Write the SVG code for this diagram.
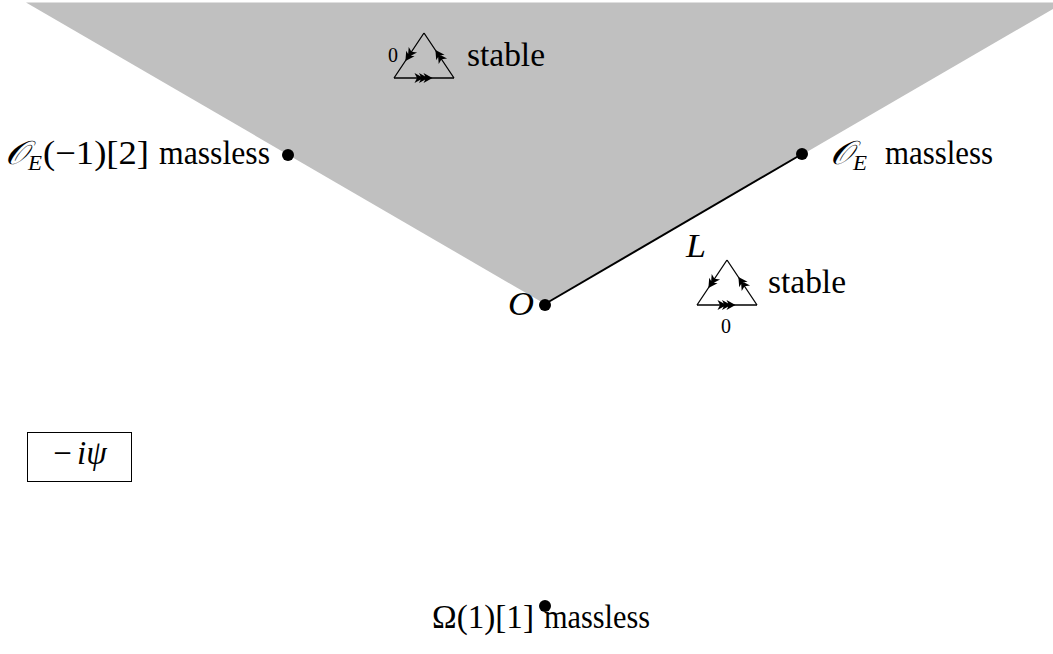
<svg xmlns="http://www.w3.org/2000/svg" width="1053" height="654" viewBox="0 0 1053 654">
<style>
text{font-family:'Liberation Serif','Times New Roman',serif;fill:#000}
.t{font-size:33px}
.it{font-style:italic}
.scr{font-family:'DejaVu Serif','DejaVu Sans',serif;font-style:italic}
.sub{font-size:22px;font-style:italic}
.small{font-size:20px}
.tri{fill:none;stroke:#000;stroke-width:1.3}
.dot{fill:#000}
.head{fill:#000}
</style>
<defs>
<marker id="a2" markerUnits="userSpaceOnUse" markerWidth="30" markerHeight="30" viewBox="-15 -15 30 30" refX="0" refY="0" orient="auto" overflow="visible">
<path class="head" d="M6.5,0 L-2.5,-5 L0,0 L-2.5,5z M2,0 L-7,-5 L-4.5,0 L-7,5z"/>
</marker>
<marker id="a3" markerUnits="userSpaceOnUse" markerWidth="30" markerHeight="30" viewBox="-15 -15 30 30" refX="0" refY="0" orient="auto" overflow="visible">
<path class="head" d="M8.5,0 L-0.5,-5 L2,0 L-0.5,5z M4,0 L-5,-5 L-2.5,0 L-5,5z M-0.5,0 L-9.5,-5 L-7,0 L-9.5,5z"/>
</marker>
</defs>
<polygon id="region" points="545,304 26,2.5 1064,2.5" fill="#c0c0c0"/>
<g id="connectors">
<line x1="545" y1="304" x2="802" y2="154" stroke="#000" stroke-width="2"/>
</g>
<g id="node-O">
<circle class="dot" cx="545" cy="305" r="6"/>
<text class="t it" x="508" y="315" textLength="26" lengthAdjust="spacingAndGlyphs">O</text>
</g>
<g id="node-OE">
<circle class="dot" cx="802" cy="154" r="6"/>
<text class="t scr" x="830" y="164" textLength="23" lengthAdjust="spacingAndGlyphs">𝒪</text>
<text class="sub" x="853" y="170" textLength="14" lengthAdjust="spacingAndGlyphs">E</text>
<text class="t" x="885" y="164" textLength="108" lengthAdjust="spacingAndGlyphs">massless</text>
</g>
<g id="node-OE-shift">
<circle class="dot" cx="288" cy="155" r="6"/>
<text class="t scr" x="5" y="164" textLength="23" lengthAdjust="spacingAndGlyphs">𝒪</text>
<text class="sub" x="28" y="170" textLength="14" lengthAdjust="spacingAndGlyphs">E</text>
<text class="t" x="43" y="164" textLength="106" lengthAdjust="spacingAndGlyphs">(−1)[2]</text>
<text class="t" x="159" y="164" textLength="111" lengthAdjust="spacingAndGlyphs">massless</text>
</g>
<g id="node-Omega">
<circle class="dot" cx="545" cy="606" r="6"/>
<text class="t" x="432" y="628" textLength="102" lengthAdjust="spacingAndGlyphs">Ω(1)[1]</text>
<text class="t" x="544" y="628" textLength="106" lengthAdjust="spacingAndGlyphs">massless</text>
</g>
<g id="label-L">
<text class="t it" x="686" y="257" textLength="20" lengthAdjust="spacingAndGlyphs">L</text>
</g>
<g id="quiver-top">
<path class="tri" d="M424,33 L409,55.5 L394,78" marker-mid="url(#a2)"/>
<path class="tri" d="M394,78 L424,78 L454,78" marker-mid="url(#a3)"/>
<path class="tri" d="M454,78 L439,55.5 L424,33" marker-mid="url(#a2)"/>
<text class="small" x="388" y="62">0</text>
<text class="t" x="467" y="66" textLength="78" lengthAdjust="spacingAndGlyphs">stable</text>
</g>
<g id="quiver-right">
<path class="tri" d="M727,260 L712,282.5 L697,305" marker-mid="url(#a2)"/>
<path class="tri" d="M697,305 L727,305 L757,305" marker-mid="url(#a3)"/>
<path class="tri" d="M757,305 L742,282.5 L727,260" marker-mid="url(#a2)"/>
<text class="small" x="721" y="333">0</text>
<text class="t" x="768" y="293" textLength="78" lengthAdjust="spacingAndGlyphs">stable</text>
</g>
<g id="box">
<rect x="27.5" y="432.5" width="104" height="49" fill="none" stroke="#000" stroke-width="1"/>
<text class="t" x="80" y="464" text-anchor="middle" font-size="37">−<tspan class="it" dx="5">iψ</tspan></text>
</g>
</svg>
